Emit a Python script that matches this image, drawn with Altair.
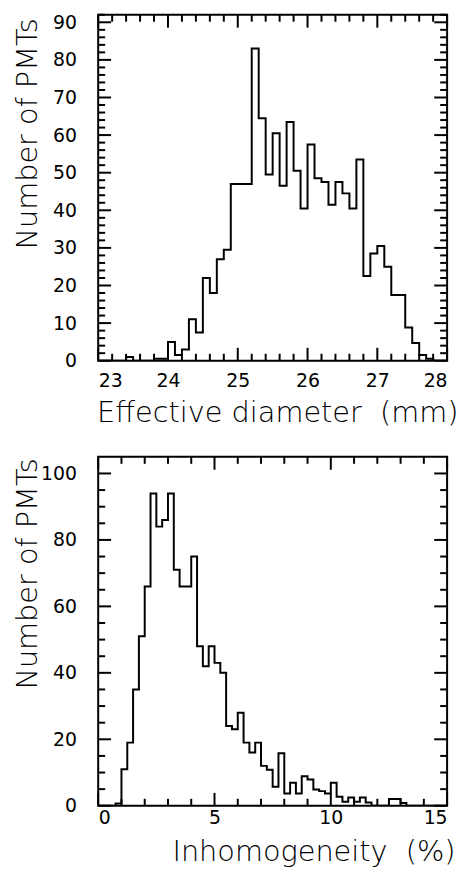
import altair as alt
import pandas as pd

# ---------------- data ----------------
# Top panel: effective diameter histogram, 0.1 mm bins from 23.0 to 28.0
diam_start = 23.0
diam_width = 0.1
diam_counts = [0, 0, 0, 0, 1, 0, 0, 0, 0.5, 0.5,
               5, 1.5, 3, 11, 7.5, 22, 18, 27, 29.5, 47,
               47, 47, 83, 64.5, 49.5, 60.5, 46.5, 63.5, 50.5, 40.5,
               57.5, 48.5, 47.5, 41.5, 47.5, 44.5, 40.5, 53.5, 22.5, 28.5,
               30.5, 25, 17.5, 17.5, 8.8, 4.7, 1.5, 0.5, 0, 0]

# Bottom panel: inhomogeneity histogram, 0.25 % bins from 0 to 15
inh_start = 0.0
inh_width = 0.25
inh_counts = [0, 0, 0, 0.7, 11, 19, 35, 51,
              66, 94, 84, 86, 94, 71, 66, 66,
              75, 48, 42, 48, 43, 40, 24, 23,
              28, 19, 16, 19, 12, 10.8, 5.7, 15.8,
              3.7, 6.9, 3.7, 8.9, 7.9, 4.9, 4.4, 3.7,
              6.9, 2.7, 1.2, 2.5, 1.2, 2.5, 1, 0,
              0, 0, 2, 2, 0.8, 0, 0, 0,
              0, 0, 0, 0]

# axis tick labels
diam_x_labels = [23, 24, 25, 26, 27, 28]
diam_y_labels = [0, 10, 20, 30, 40, 50, 60, 70, 80, 90]
inh_x_labels = [0, 5, 10, 15]
inh_y_labels = [0, 20, 40, 60, 80, 100]

# minor tick positions
diam_x_minor = [round(23 + 0.2 * i, 1) for i in range(26) if i % 5 != 0]
diam_y_minor = [2 * i for i in range(47) if i % 5 != 0]
inh_x_minor = [i for i in range(16) if i % 5 != 0]
inh_y_minor = [5 * i for i in range(21) if i % 4 != 0]

FONT = "DejaVu Sans"


def step_frame(start, width, counts):
    edges = [round(start + i * width, 4) for i in range(len(counts) + 1)]
    vals = list(counts) + [counts[-1]]
    return pd.DataFrame({"x": edges, "y": vals})


def panel(df, xdom, ydom, W, H, xaxis, yaxis, xmaj, xmin, ymaj, ymin):
    xs = alt.Scale(domain=xdom, nice=False, zero=False)
    ys = alt.Scale(domain=ydom, nice=False, zero=False)
    X = alt.X("x:Q", scale=xs, axis=xaxis)
    Y = alt.Y("y:Q", scale=ys, axis=yaxis)
    hist = alt.Chart(df).mark_line(
        interpolate="step-after", color="black", strokeWidth=2, clip=True
    ).encode(x=X, y=Y)
    layers = [hist]
    for vals, L in [(xmaj, 13), (xmin, 7)]:
        d = pd.DataFrame({"x": vals})
        b = alt.Chart(d).mark_rule(color="black", strokeWidth=2)
        layers.append(b.encode(x=X, y=alt.value(H), y2=alt.value(H - L)))
        layers.append(b.encode(x=X, y=alt.value(0), y2=alt.value(L)))
    for vals, L in [(ymaj, 13), (ymin, 7)]:
        d = pd.DataFrame({"y": vals})
        b = alt.Chart(d).mark_rule(color="black", strokeWidth=2)
        layers.append(b.encode(y=Y, x=alt.value(0), x2=alt.value(L)))
        layers.append(b.encode(y=Y, x=alt.value(W), x2=alt.value(W - L)))
    return alt.layer(*layers).properties(width=W, height=H)


W = 352

common = dict(domain=False, ticks=False, tickSize=0, grid=False,
              labelFont=FONT, labelFontSize=19, labelColor="black", labelFontWeight="normal",
              titleFont=FONT, titleFontSize=29, titleFontWeight=200,
              titleColor="black", format="d")

top_xaxis = alt.Axis(values=diam_x_labels, title="Effective diameter \u00a0(mm)",
                     labelPadding=11, titleX=363, titleY=61, titleAlign="right",
                     titleBaseline="alphabetic", titleAngle=0, **common)
top_yaxis = alt.Axis(values=diam_y_labels, title="Number of PMTs",
                     labelPadding=22, titleX=-62, titleY=3, titleAlign="right",
                     titleBaseline="alphabetic", titleAngle=270, **common)
bot_xaxis = alt.Axis(values=inh_x_labels, title="Inhomogeneity \u00a0(%)",
                     labelPadding=3, titleX=360, titleY=55, titleAlign="right",
                     titleBaseline="alphabetic", titleAngle=0, **common)
bot_yaxis = alt.Axis(values=inh_y_labels, title="Number of PMTs",
                     labelPadding=22, titleX=-62, titleY=1, titleAlign="right",
                     titleBaseline="alphabetic", titleAngle=270, **common)

top = panel(step_frame(diam_start, diam_width, diam_counts), [23, 28], [0, 92], W, 349,
            top_xaxis, top_yaxis, diam_x_labels, diam_x_minor, diam_y_labels, diam_y_minor)
bottom = panel(step_frame(inh_start, inh_width, inh_counts), [0, 15], [0, 105], W, 352,
               bot_xaxis, bot_yaxis, inh_x_labels, inh_x_minor, inh_y_labels, inh_y_minor)

chart = alt.vconcat(top, bottom, spacing=97, bounds="flush").resolve_scale(
    x="independent", y="independent"
).properties(
    padding={"left": 5, "top": 0, "right": 0, "bottom": 0}
).configure_view(
    stroke="black", strokeWidth=2
).configure_axis(
    domain=False, ticks=False, tickSize=0, grid=False,
    labelFont=FONT, labelFontSize=19, labelColor="black", labelFontWeight="normal",
    titleFont=FONT, titleFontSize=29, titleFontWeight=200, titleColor="black",
)

chart.save("out.html", embed_options={"renderer": "svg", "actions": False})
